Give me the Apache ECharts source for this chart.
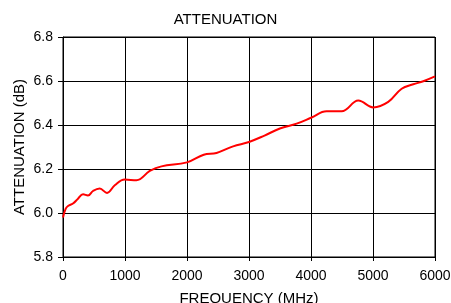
<!DOCTYPE html>
<html>
<head>
<meta charset="utf-8">
<script src="https://cdn.jsdelivr.net/npm/echarts@6/dist/echarts.min.js"></script>
<style>
    html, body { margin: 0; padding: 0; background: #fff; }
    #chart { width: 451px; height: 303px; }
</style>
</head>
<body>
<div id="chart"></div>
<script>
// frequency in MHz, attenuation in dB
const freqs = [0, 44, 81, 161, 242, 323, 403, 484, 592, 710, 835, 996, 1185, 1400, 1588,
    2000, 2270, 2476, 2744, 3000, 3250, 3498, 3768, 4010, 4250, 4494, 4763, 5005, 5246,
    5462, 5650, 5811, 6000];
const atten = [5.98, 6.02, 6.032, 6.043, 6.065, 6.085, 6.08, 6.10, 6.111, 6.091, 6.126, 6.152, 6.149, 6.191, 6.212,
    6.23, 6.265, 6.273, 6.303, 6.323, 6.352, 6.384, 6.406, 6.434, 6.462, 6.462, 6.511, 6.48, 6.505,
    6.565, 6.585, 6.599, 6.621];
const xTicks = [0, 1000, 2000, 3000, 4000, 5000, 6000];
const yTicks = [5.8, 6.0, 6.2, 6.4, 6.6, 6.8];

function drawChart() {
    let myChart = echarts.init(document.querySelector("#chart"));
    const font = "Liberation Sans, Arial, sans-serif";
    option = {
        animation: false,
        title: {
            text: "ATTENUATION",
            left: "center",
            top: 7,
            textStyle: { fontFamily: font, fontSize: 15, fontWeight: "normal", color: "#000" },
        },
        grid: {
            left: 63, right: 16, top: 37, bottom: 46,
            containLabel: false, outerBoundsMode: "none",
            show: true, borderColor: "#000", borderWidth: 1,
        },
        xAxis: {
            type: "value",
            min: xTicks[0],
            max: xTicks[xTicks.length - 1],
            interval: 1000,
            name: "FREQUENCY (MHz)",
            nameLocation: "middle",
            nameGap: 34,
            nameMoveOverlap: false,
            nameTextStyle: { fontFamily: font, fontSize: 15, color: "#000" },
            axisLine: { lineStyle: { color: "#000", width: 1 } },
            axisTick: { show: true, inside: false, length: 4, lineStyle: { color: "#000" } },
            axisLabel: {
                fontFamily: font, fontSize: 14, color: "#000", margin: 12,
                formatter: (v) => String(v),
            },
            splitLine: { show: true, lineStyle: { color: "#000", width: 1 } },
        },
        yAxis: {
            type: "value",
            min: yTicks[0],
            max: yTicks[yTicks.length - 1],
            interval: 0.2,
            name: "ATTENUATION (dB)",
            nameLocation: "middle",
            nameGap: 36,
            nameMoveOverlap: false,
            nameTextStyle: { fontFamily: font, fontSize: 15, color: "#000" },
            axisLine: { show: true, lineStyle: { color: "#000", width: 1 } },
            axisTick: { show: true, inside: false, length: 5, lineStyle: { color: "#000" } },
            axisLabel: {
                fontFamily: font, fontSize: 14, color: "#000", margin: 10,
                formatter: (v) => v.toFixed(1),
            },
            splitLine: { show: true, lineStyle: { color: "#000", width: 1 } },
        },
        series: [
            {
                type: "line",
                data: freqs.map((f, i) => [f, atten[i]]),
                smooth: 0.4,
                showSymbol: false,
                lineStyle: { color: "#ff0000", width: 2 },
            },
        ],
    };
    myChart.setOption(option);
    window.addEventListener("resize", function () {
        myChart.resize();
    });
}

drawChart();
</script>
</body>
</html>
